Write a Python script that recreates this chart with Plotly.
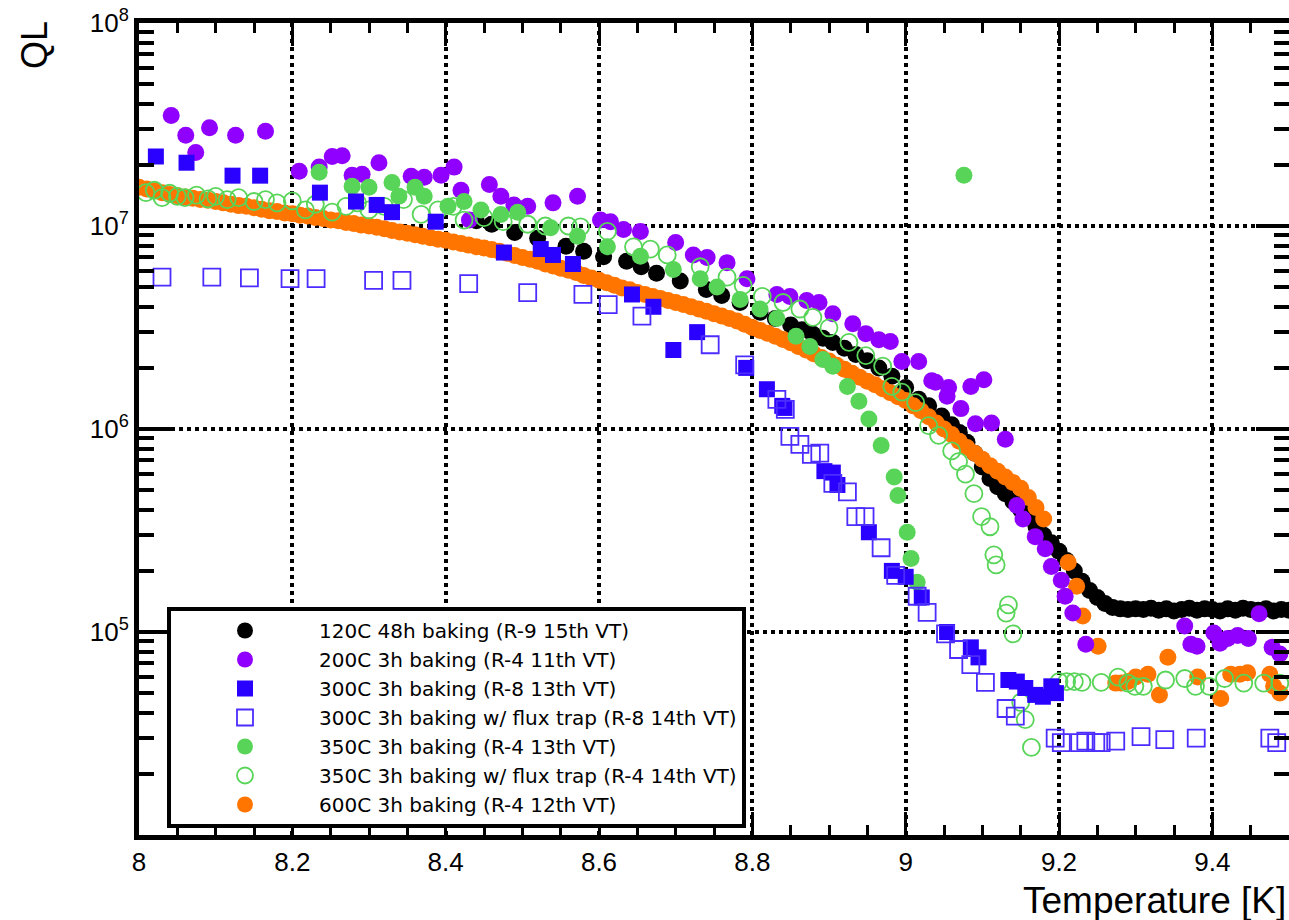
import plotly.graph_objects as go

# ---------------- data ----------------
BLACK_T = [8.44, 8.46, 8.49, 8.52, 8.557, 8.58, 8.606, 8.636, 8.655, 8.675, 8.706, 8.74, 8.76, 8.784, 8.81, 8.83,
           8.85, 8.865, 8.879, 8.892, 8.905, 8.92, 8.935, 8.95, 8.965, 8.982, 9.00, 9.017, 9.03, 9.047, 9.06, 9.07,
           9.08, 9.09, 9.10, 9.11, 9.12, 9.13, 9.14, 9.15, 9.16, 9.17, 9.18, 9.19, 9.20, 9.21, 9.22, 9.23,
           9.24, 9.25, 9.26, 9.27, 9.28, 9.29, 9.30, 9.31, 9.32, 9.33, 9.34, 9.35, 9.36, 9.37, 9.38, 9.39,
           9.40, 9.41, 9.42, 9.43, 9.44, 9.45, 9.46, 9.47, 9.48, 9.49, 9.50]
BLACK_Q = [10.6e6, 10.2e6, 9.3e6, 8.7e6, 7.95e6, 7.5e6, 7.06e6, 6.7e6, 6.3e6, 5.85e6, 5.36e6, 4.87e6, 4.55e6, 4.2e6, 3.76e6, 3.5e6,
           3.25e6, 3.08e6, 2.93e6, 2.8e6, 2.67e6, 2.5e6, 2.33e6, 2.17e6, 2.0e6, 1.82e6, 1.6e6, 1.4e6, 1.3e6, 1.16e6, 1.05e6, 0.96e6,
           0.86e6, 0.76e6, 0.65e6, 0.57e6, 0.52e6, 0.48e6, 0.44e6, 0.40e6, 0.365e6, 0.33e6, 0.30e6, 0.275e6, 0.25e6, 0.225e6, 0.20e6, 0.178e6,
           0.16e6, 0.148e6, 0.138e6, 0.132e6, 0.130e6, 0.129e6, 0.130e6, 0.129e6, 0.131e6, 0.128e6, 0.130e6, 0.127e6, 0.129e6, 0.131e6, 0.128e6, 0.130e6,
           0.129e6, 0.127e6, 0.130e6, 0.128e6, 0.131e6, 0.129e6, 0.128e6, 0.130e6, 0.127e6, 0.129e6, 0.128e6]

PURPLE_T = [8.042, 8.061, 8.074, 8.092, 8.126, 8.165, 8.209, 8.235, 8.252, 8.265, 8.278, 8.291, 8.313, 8.355,
            8.372, 8.394, 8.411, 8.42, 8.431, 8.457, 8.472, 8.489, 8.507, 8.54, 8.572, 8.602, 8.615, 8.632,
            8.654, 8.70, 8.723, 8.741, 8.767, 8.793, 8.832, 8.849, 8.871, 8.887, 8.905, 8.931, 8.948, 8.965,
            8.98, 8.995, 9.017, 9.034, 9.039, 9.054, 9.056, 9.072, 9.085, 9.091, 9.102, 9.112, 9.13, 9.145,
            9.153, 9.169, 9.182, 9.19, 9.203, 9.208, 9.218, 9.235, 9.364, 9.372, 9.38, 9.402, 9.41, 9.42,
            9.433, 9.447, 9.461, 9.478, 9.488]
PURPLE_Q = [3.5e7, 2.8e7, 2.3e7, 3.05e7, 2.8e7, 2.93e7, 1.86e7, 1.95e7, 2.2e7, 2.22e7, 1.78e7, 1.8e7, 2.05e7, 1.76e7,
            1.74e7, 1.78e7, 1.95e7, 1.5e7, 1.07e7, 1.6e7, 1.4e7, 1.27e7, 1.25e7, 1.3e7, 1.4e7, 1.07e7, 1.05e7, 9.6e6,
            9.4e6, 8.3e6, 7.2e6, 7.0e6, 6.6e6, 5.5e6, 4.6e6, 4.5e6, 4.3e6, 4.2e6, 3.7e6, 3.3e6, 2.95e6, 2.75e6,
            2.7e6, 2.15e6, 2.15e6, 1.73e6, 1.7e6, 1.45e6, 1.6e6, 1.26e6, 1.62e6, 1.06e6, 1.75e6, 1.07e6, 8.9e5, 4.2e5,
            3.6e5, 2.95e5, 2.57e5, 2.1e5, 1.8e5, 1.5e5, 1.24e5, 8.7e4, 1.07e5, 8.7e4, 8.5e4, 9.9e4, 8.8e4, 9.3e4,
            9.6e4, 9.3e4, 1.23e5, 8.4e4, 7.8e4]

BLUE_T = [8.022, 8.062, 8.122, 8.158, 8.236, 8.283, 8.31, 8.33, 8.387, 8.476, 8.524, 8.54, 8.566, 8.643,
          8.671, 8.697, 8.728, 8.792, 8.819, 8.839, 8.842, 8.894, 8.905, 8.911, 8.952, 8.982, 9.0, 9.021,
          9.054, 9.085, 9.095, 9.134, 9.145, 9.156, 9.169, 9.179, 9.19, 9.196]
BLUE_Q = [2.2e7, 2.05e7, 1.77e7, 1.77e7, 1.46e7, 1.32e7, 1.27e7, 1.17e7, 1.05e7, 7.4e6, 7.7e6, 7.2e6, 6.5e6, 4.6e6,
          4.0e6, 2.45e6, 3.0e6, 2.0e6, 1.57e6, 1.3e6, 1.27e6, 6.2e5, 6.1e5, 5.3e5, 3.1e5, 2.0e5, 1.87e5, 1.48e5,
          1.0e5, 8.4e4, 7.5e4, 5.8e4, 5.7e4, 5.3e4, 4.9e4, 4.8e4, 5.4e4, 5.0e4]

BLUEO_T = [8.03, 8.095, 8.144, 8.197, 8.231, 8.306, 8.343, 8.43, 8.507, 8.579, 8.612, 8.656, 8.745, 8.79,
           8.832, 8.843, 8.849, 8.862, 8.877, 8.888, 8.905, 8.924, 8.935, 8.947, 8.968, 8.987, 9.015, 9.028,
           9.052, 9.069, 9.085, 9.104, 9.131, 9.143, 9.195, 9.203, 9.227, 9.235, 9.248, 9.255, 9.274, 9.307,
           9.338, 9.379, 9.475, 9.484]
BLUEO_Q = [5.6e6, 5.6e6, 5.55e6, 5.5e6, 5.5e6, 5.4e6, 5.4e6, 5.2e6, 4.7e6, 4.6e6, 4.1e6, 3.6e6, 2.6e6, 2.07e6,
           1.4e6, 1.25e6, 9.2e5, 8.4e5, 7.5e5, 7.6e5, 5.4e5, 4.9e5, 3.7e5, 3.7e5, 2.6e5, 1.9e5, 1.5e5, 1.25e5,
           9.8e4, 8.2e4, 6.9e4, 5.65e4, 4.2e4, 3.85e4, 3.0e4, 2.85e4, 2.85e4, 2.9e4, 2.85e4, 2.85e4, 2.9e4, 3.05e4,
           2.95e4, 3.0e4, 3.0e4, 2.85e4]

GREEN_T = [8.235, 8.278, 8.30, 8.330, 8.339, 8.36, 8.372, 8.403, 8.424, 8.446, 8.472, 8.494, 8.537, 8.572,
           8.611, 8.654, 8.697, 8.732, 8.754, 8.784, 8.81, 8.832, 8.857, 8.875, 8.892, 8.905, 8.924, 8.939,
           8.952, 8.968, 8.985, 8.99, 9.002, 9.007, 9.015, 9.076]
GREEN_Q = [1.84e7, 1.57e7, 1.55e7, 1.64e7, 1.4e7, 1.55e7, 1.4e7, 1.25e7, 1.32e7, 1.2e7, 1.14e7, 1.17e7, 9.8e6, 8.9e6,
           7.9e6, 7.1e6, 6.1e6, 5.5e6, 5.0e6, 4.35e6, 3.9e6, 3.5e6, 2.86e6, 2.55e6, 2.2e6, 2.04e6, 1.62e6, 1.37e6,
           1.12e6, 8.3e5, 5.8e5, 4.7e5, 3.1e5, 2.3e5, 1.76e5, 1.78e7]

GREENO_T = [8.009, 8.02, 8.03, 8.04, 8.05, 8.06, 8.075, 8.09, 8.10, 8.115, 8.13, 8.15, 8.165, 8.18, 8.20,
            8.217, 8.23, 8.252, 8.27, 8.285, 8.30, 8.32, 8.345, 8.368, 8.39, 8.41, 8.424, 8.45, 8.475, 8.507,
            8.53, 8.56, 8.576, 8.611, 8.645, 8.667, 8.689, 8.732, 8.767, 8.788, 8.813, 8.84, 8.862, 8.879, 8.90,
            8.926, 8.948, 8.97, 8.982, 8.995, 9.013, 9.03, 9.043, 9.06, 9.069, 9.078, 9.089, 9.099, 9.11, 9.115,
            9.118, 9.131, 9.134, 9.14, 9.15, 9.156, 9.164, 9.20, 9.21, 9.22, 9.23, 9.255, 9.277, 9.29, 9.299,
            9.31, 9.339, 9.364, 9.378, 9.396, 9.416, 9.441, 9.467, 9.488]
GREENO_Q = [1.46e7, 1.5e7, 1.38e7, 1.45e7, 1.4e7, 1.38e7, 1.42e7, 1.36e7, 1.4e7, 1.35e7, 1.38e7, 1.32e7, 1.35e7, 1.3e7, 1.33e7,
            1.2e7, 1.28e7, 1.17e7, 1.25e7, 1.3e7, 1.2e7, 1.25e7, 1.35e7, 1.14e7, 1.2e7, 1.25e7, 1.07e7, 1.1e7, 1.05e7, 1.02e7,
            1.0e7, 1.0e7, 9.9e6, 9.4e6, 7.9e6, 7.7e6, 7.2e6, 6.3e6, 5.6e6, 5.1e6, 4.5e6, 4.2e6, 3.9e6, 3.55e6, 3.15e6,
            2.67e6, 2.3e6, 2.04e6, 1.62e6, 1.52e6, 1.35e6, 1.04e6, 9.3e5, 7.8e5, 6.9e5, 6.0e5, 4.8e5, 3.7e5, 3.3e5, 2.4e5,
            2.14e5, 1.24e5, 1.36e5, 9.8e4, 4.5e4, 3.7e4, 2.7e4, 5.7e4, 5.7e4, 5.7e4, 5.65e4, 5.65e4, 6.0e4, 5.6e4, 5.4e4,
            5.4e4, 5.8e4, 5.9e4, 5.4e4, 5.4e4, 5.9e4, 5.6e4, 5.6e4, 5.6e4]

ORANGE_T = [8.00, 8.01, 8.02, 8.03, 8.04, 8.05, 8.06, 8.07, 8.08, 8.09, 8.10, 8.11, 8.12, 8.13, 8.14, 8.15,
            8.16, 8.17, 8.18, 8.19, 8.20, 8.21, 8.22, 8.23, 8.24, 8.25, 8.26, 8.27, 8.28, 8.29, 8.30, 8.31,
            8.32, 8.33, 8.34, 8.35, 8.36, 8.37, 8.38, 8.39, 8.40, 8.41, 8.42, 8.43, 8.44, 8.45, 8.46, 8.47,
            8.48, 8.49, 8.50, 8.51, 8.52, 8.53, 8.54, 8.55, 8.56, 8.57, 8.58, 8.59, 8.60, 8.61, 8.62, 8.63,
            8.64, 8.65, 8.66, 8.67, 8.68, 8.69, 8.70, 8.71, 8.72, 8.73, 8.74, 8.75, 8.76, 8.77, 8.78, 8.79,
            8.80, 8.81, 8.82, 8.83, 8.84, 8.85, 8.86, 8.87, 8.88, 8.89, 8.90, 8.91, 8.92, 8.93, 8.94, 8.95,
            8.96, 8.97, 8.98, 8.99, 9.00, 9.01, 9.02, 9.03, 9.04, 9.05, 9.06, 9.07, 9.08, 9.09, 9.10, 9.11,
            9.12, 9.13, 9.14, 9.15, 9.16, 9.17, 9.18, 9.212, 9.223, 9.231, 9.251, 9.274, 9.281, 9.29, 9.30,
            9.316, 9.331, 9.342, 9.381, 9.411, 9.424, 9.436, 9.446, 9.475, 9.48, 9.488]
ORANGE_Q = [15.5e6, 15.2e6, 14.9e6, 14.6e6, 14.3e6, 14.1e6, 13.9e6, 13.7e6, 13.5e6, 13.4e6, 13.2e6, 13.0e6, 12.8e6, 12.6e6, 12.5e6, 12.3e6,
            12.1e6, 11.9e6, 11.8e6, 11.6e6, 11.5e6, 11.3e6, 11.2e6, 11.0e6, 10.9e6, 10.7e6, 10.6e6, 10.4e6, 10.3e6, 10.1e6, 10.0e6, 9.85e6,
            9.7e6, 9.5e6, 9.35e6, 9.2e6, 9.05e6, 8.9e6, 8.75e6, 8.6e6, 8.5e6, 8.35e6, 8.2e6, 8.05e6, 7.9e6, 7.8e6, 7.65e6, 7.5e6,
            7.35e6, 7.15e6, 7.0e6, 6.85e6, 6.7e6, 6.5e6, 6.35e6, 6.2e6, 6.05e6, 5.9e6, 5.7e6, 5.55e6, 5.4e6, 5.25e6, 5.1e6, 4.95e6,
            4.85e6, 4.7e6, 4.6e6, 4.5e6, 4.4e6, 4.3e6, 4.2e6, 4.1e6, 4.0e6, 3.9e6, 3.8e6, 3.7e6, 3.6e6, 3.5e6, 3.4e6, 3.28e6,
            3.16e6, 3.06e6, 2.96e6, 2.86e6, 2.76e6, 2.66e6, 2.55e6, 2.45e6, 2.35e6, 2.25e6, 2.16e6, 2.06e6, 1.97e6, 1.88e6, 1.8e6, 1.72e6,
            1.65e6, 1.58e6, 1.51e6, 1.44e6, 1.38e6, 1.3e6, 1.23e6, 1.15e6, 1.07e6, 1.0e6, 0.94e6, 0.87e6, 0.81e6, 0.76e6, 0.71e6, 0.66e6,
            0.62e6, 0.58e6, 0.545e6, 0.51e6, 0.46e6, 0.41e6, 0.36e6, 0.22e6, 0.168e6, 0.12e6, 0.085e6, 0.056e6, 0.056e6, 0.057e6, 0.060e6,
            0.062e6, 0.049e6, 0.075e6, 0.060e6, 0.047e6, 0.062e6, 0.062e6, 0.063e6, 0.062e6, 0.054e6, 0.050e6]

NAMES = ["120C 48h baking (R-9 15th VT)",
         "200C 3h baking (R-4 11th VT)",
         "300C 3h baking (R-8 13th VT)",
         "300C 3h baking w/ flux trap (R-8 14th VT)",
         "350C 3h baking (R-4 13th VT)",
         "350C 3h baking w/ flux trap (R-4 14th VT)",
         "600C 3h baking (R-4 12th VT)"]

X_TICKS = [8, 8.2, 8.4, 8.6, 8.8, 9, 9.2, 9.4]
X_TICKTEXT = ["8", "8.2", "8.4", "8.6", "8.8", "9", "9.2", "9.4"]
Y_TICKS = [1e5, 1e6, 1e7, 1e8]
Y_TICKTEXT = ["10<sup>5</sup>", "10<sup>6</sup>", "10<sup>7</sup>", "10<sup>8</sup>"]

# ---------------- figure ----------------
FONT = "Liberation Sans, Arial, Helvetica, sans-serif"
LEGEND_FONT = "DejaVu Sans, Liberation Sans, Arial, sans-serif"
PURPLE = "#9000ff"
BLUE = "#2a00ff"
BLUE_OPEN = "#4b2dff"
GREEN = "#58d558"
ORANGE = "#ff7500"

fig = go.Figure()

def add(x, y, name, rank, symbol, color, size=17, lw=0):
    fig.add_trace(go.Scatter(
        x=x, y=y, name=name, mode="markers", legendrank=rank,
        marker=dict(symbol=symbol, size=size, color=color,
                    line=dict(width=lw, color=color))))

# drawing order (legend order kept via legendrank)
add(BLACK_T, BLACK_Q, NAMES[0], 1, "circle", "#000000")
add(ORANGE_T, ORANGE_Q, NAMES[6], 7, "circle", ORANGE)
add(PURPLE_T, PURPLE_Q, NAMES[1], 2, "circle", PURPLE)
add(GREEN_T, GREEN_Q, NAMES[4], 5, "circle", GREEN)
add(GREENO_T, GREENO_Q, NAMES[5], 6, "circle-open", GREEN, 17, 1.8)
add(BLUE_T, BLUE_Q, NAMES[2], 3, "square", BLUE, 16)
add(BLUEO_T, BLUEO_Q, NAMES[3], 4, "square-open", BLUE_OPEN, 17, 1.8)

# empty helper trace so the right-hand tick axis is drawn (ticks only, no line)
fig.add_trace(go.Scatter(x=[None], y=[None], yaxis="y2", mode="markers",
                         showlegend=False, hoverinfo="skip"))

W, H = 1289, 920
L, R, T, B = 139, 0, 23, 85
pw = W - L - R
ph = H - T - B

ytick_common = dict(
    type="log", range=[4, 8], tickmode="array", tickvals=Y_TICKS,
    ticks="inside", ticklen=33, tickwidth=4, tickcolor="black",
    zeroline=False,
    minor=dict(ticks="inside", ticklen=15, tickwidth=4, tickcolor="black",
               dtick="D1", showgrid=False),
)

fig.update_layout(
    width=W, height=H,
    margin=dict(l=L, r=R, t=T, b=B),
    paper_bgcolor="white", plot_bgcolor="white",
    font=dict(family=FONT, color="black"),
    showlegend=True,
    legend=dict(
        x=(167 - L) / pw, y=(H - B - 607) / ph, xanchor="left", yanchor="top",
        bgcolor="white", bordercolor="black", borderwidth=4,
        font=dict(size=20, family=LEGEND_FONT, color="black"),
        itemwidth=138, traceorder="normal",
    ),
    xaxis=dict(
        range=[8, 9.5], tickmode="array", tickvals=X_TICKS, ticktext=X_TICKTEXT,
        ticks="inside", ticklen=23, tickwidth=3, tickcolor="black",
        showline=True, linewidth=5, linecolor="black", mirror="ticks",
        showgrid=True, gridcolor="black", gridwidth=4, griddash="dot",
        zeroline=False, tickfont=dict(size=26, family=FONT),
        minor=dict(ticks="inside", ticklen=10, tickwidth=3, tickcolor="black",
                   dtick=0.05, tick0=8, showgrid=False),
    ),
    yaxis=dict(
        **ytick_common, ticktext=Y_TICKTEXT,
        showline=True, linewidth=5, linecolor="black", mirror=False,
        showgrid=True, gridcolor="black", gridwidth=4, griddash="dot",
        tickfont=dict(size=26, family=FONT),
    ),
    yaxis2=dict(
        **ytick_common, overlaying="y", side="right",
        showline=False, showgrid=False, showticklabels=False,
    ),
)

fig.add_annotation(text="QL", xref="paper", yref="paper",
                   x=(34 - L) / pw, y=(H - B - 45) / ph, textangle=-90,
                   showarrow=False, xanchor="center", yanchor="middle",
                   font=dict(size=36, family=FONT, color="black"))
fig.add_annotation(text="Temperature [K]", xref="paper", yref="paper",
                   x=(1288 - L) / pw, y=(H - B - 900) / ph,
                   showarrow=False, xanchor="right", yanchor="middle",
                   font=dict(size=37, family=FONT, color="black"))

fig.write_html("out.html", config={"displayModeBar": False})
